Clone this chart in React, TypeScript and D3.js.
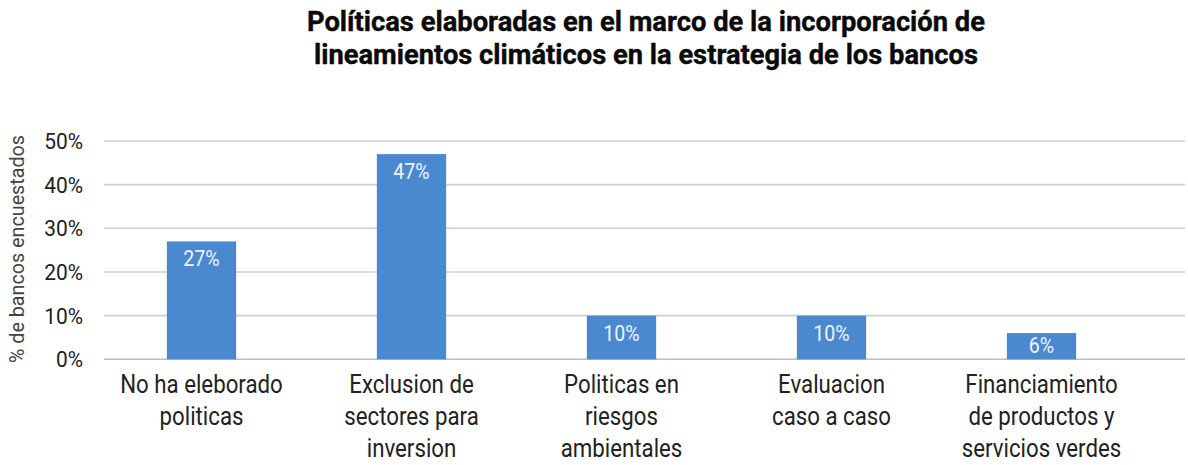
import * as d3 from "d3";

const titleLines = [
  "Políticas elaboradas en el marco de la incorporación de",
  "lineamientos climáticos en la estrategia de los bancos",
];
const categories = [
  ["No ha eleborado", "politicas"],
  ["Exclusion de", "sectores para", "inversion"],
  ["Politicas en", "riesgos", "ambientales"],
  ["Evaluacion", "caso a caso"],
  ["Financiamiento", "de productos y", "servicios verdes"],
];
const values = [27, 47, 10, 10, 6];
const yTicks = [0, 10, 20, 30, 40, 50];
const yTitle = "% de bancos encuestados";

const W = 1188;
const H = 465;
const FONT = "Roboto, 'Noto Sans', sans-serif";
const SQ = 0.89; // narrow the glyphs like a condensed face

function CText({ x, y, size, sx = SQ, anchor = "middle", fill = "#222", weight = 400, children }) {
  return (
    <text
      transform={`translate(${x},${y}) scale(${sx},1)`}
      textAnchor={anchor}
      fontSize={size}
      fontWeight={weight}
      fill={fill}
      fontFamily={FONT}
    >
      {children}
    </text>
  );
}

export default function App() {
  const x = d3
    .scaleBand<number>()
    .domain(d3.range(values.length))
    .range([96.5, 1146.5])
    .paddingInner(0.67)
    .paddingOuter(0.335);
  const y = d3.scaleLinear().domain([0, 50]).range([359.3, 141]);

  const gridLeft = 104;
  const gridRight = 1185;
  const base = y(0);

  return (
    <svg
      width={W}
      height={H}
      style={{ position: "absolute", left: 0, top: 0, background: "#fff" }}
    >
      {/* title */}
      {titleLines.map((t, i) => (
        <text
          key={i}
          x={646}
          y={31 + i * 33}
          textAnchor="middle"
          fontSize={27}
          fontWeight={700}
          fill="#0a0a0a"
          stroke="#0a0a0a"
          strokeWidth={0.4}
          fontFamily={FONT}
          textLength={i === 0 ? 678 : 664}
          lengthAdjust="spacingAndGlyphs"
        >
          {t}
        </text>
      ))}

      {/* grid */}
      {yTicks.map((t) => (
        <line
          key={t}
          x1={gridLeft}
          x2={gridRight}
          y1={y(t)}
          y2={y(t)}
          stroke={t === 0 ? "#bdbdbd" : "#cfcfcf"}
          strokeWidth={1.6}
        />
      ))}

      {/* y ticks */}
      {yTicks.map((t) => (
        <CText key={t} x={83} y={y(t) + 8} size={22} sx={0.95} anchor="end">
          {t}%
        </CText>
      ))}

      {/* y title */}
      <text
        transform={`translate(24,${249}) rotate(-90)`}
        textAnchor="middle"
        fontSize={20}
        fill="#444"
        fontFamily={FONT}
        textLength={228}
        lengthAdjust="spacingAndGlyphs"
      >
        {yTitle}
      </text>

      {/* bars */}
      {values.map((v, i) => {
        const top = y(v);
        const cx = x(i) + x.bandwidth() / 2;
        const ly = Math.min(top + 25, (top + base) / 2 + 7);
        return (
          <g key={i}>
            <rect x={x(i)} y={top} width={x.bandwidth()} height={base - top} fill="#4a89cf" />
            <CText x={cx} y={ly} size={22} fill="#eef4fb">
              {v}%
            </CText>
          </g>
        );
      })}

      {/* category labels */}
      {categories.map((lines, i) => {
        const cx = x(i) + x.bandwidth() / 2;
        return lines.map((ln, j) => (
          <CText key={i + "-" + j} x={cx} y={393 + j * 32} size={25}>
            {ln}
          </CText>
        ));
      })}
    </svg>
  );
}
